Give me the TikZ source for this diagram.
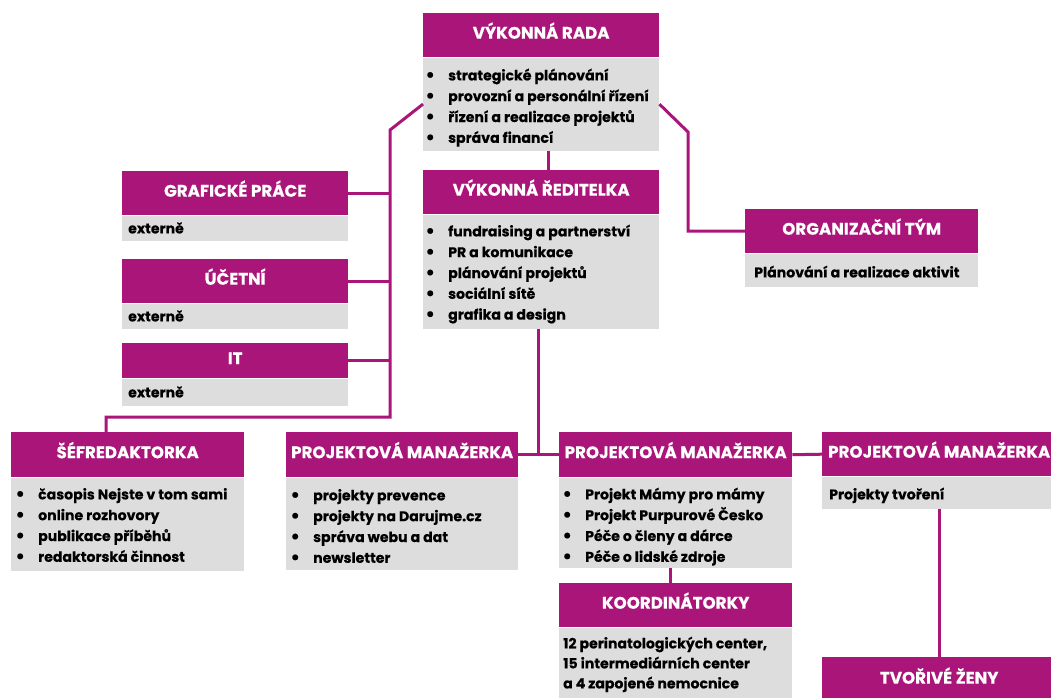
\documentclass[tikz,border=0pt]{standalone}
\usepackage{fontspec}
\setmainfont{Poppins}[BoldFeatures={FakeBold=0.35}]
\usetikzlibrary{calc}
\definecolor{mag}{RGB}{170,21,122}
\definecolor{boxgray}{RGB}{221,221,221}
\newcommand\bl{\makebox[0pt]{\raisebox{-0.9pt}{\fontsize{19}{19}\selectfont\textbullet}}\hspace{18pt}}
\tikzset{
  hdr/.style={anchor=north west, fill=mag, text=white, font=\fontsize{16.7}{19}\selectfont\bfseries, inner sep=0pt, text height=0.7em, text depth=0pt},
  bdy/.style={anchor=north west, fill=boxgray, inner sep=0pt},
  txt/.style={anchor=base west, inner sep=0pt, font=\fontsize{14.1}{20.8}\selectfont\bfseries, text=black},
  conn/.style={draw=mag, line width=3pt},
}
\begin{document}
\begin{tikzpicture}[x=1pt,y=-1pt]
\useasboundingbox (0,0) rectangle (1051,697);
\clip (0,0) rectangle (1051,697);
\fill[white] (0,0) rectangle (1051,697);

% VÝKONNÁ RADA
\node[hdr, minimum width=236pt, minimum height=44pt] (vrH) at (423,13) {VÝKONNÁ RADA};
\node[bdy, minimum width=236pt, minimum height=93pt] (vrB) at (vrH.south west) {};
\node[txt] (vrT) at ($(vrB.north west)+(7,23)$) {\begin{tabular}[t]{@{}l@{}}\bl strategické plánování\\\bl provozní a personální řízení\\\bl řízení a realizace projektů\\\bl správa financí\end{tabular}};

% VÝKONNÁ ŘEDITELKA
\node[hdr, minimum width=236pt, minimum height=44pt] (vdH) at (423,170) {VÝKONNÁ ŘEDITELKA};
\node[bdy, minimum width=236pt, minimum height=114pt] (vdB) at (vdH.south west) {};
\node[txt] (vdT) at ($(vdB.north west)+(7,22)$) {\begin{tabular}[t]{@{}l@{}}\bl fundraising a partnerství\\\bl PR a komunikace\\\bl plánování projektů\\\bl sociální sítě\\\bl grafika a design\end{tabular}};

% GRAFICKÉ PRÁCE
\node[hdr, minimum width=226pt, minimum height=44pt] (gpH) at (122,171) {GRAFICKÉ PRÁCE};
\node[bdy, minimum width=226pt, minimum height=25pt] (gpB) at (gpH.south west) {};
\node[txt] (gpT) at ($(gpB.north west)+(6,18)$) {externě};

% ÚČETNÍ
\node[hdr, minimum width=226pt, minimum height=44pt] (ucH) at (122,259) {ÚČETNÍ};
\node[bdy, minimum width=226pt, minimum height=25pt] (ucB) at (ucH.south west) {};
\node[txt] (ucT) at ($(ucB.north west)+(6,18)$) {externě};

% IT
\node[hdr, minimum width=226pt, minimum height=35pt] (itH) at (122,343) {IT};
\node[bdy, minimum width=226pt, minimum height=27pt] (itB) at (itH.south west) {};
\node[txt] (itT) at ($(itB.north west)+(6,19)$) {externě};

% ORGANIZAČNÍ TÝM
\node[hdr, minimum width=233pt, minimum height=44pt] (otH) at (745,209) {ORGANIZAČNÍ TÝM};
\node[bdy, minimum width=233pt, minimum height=33pt] (otB) at (otH.south west) {};
\node[txt] (otT) at ($(otB.north west)+(9,24)$) {Plánování a realizace aktivit};

% ŠÉFREDAKTORKA
\node[hdr, minimum width=233pt, minimum height=45pt] (sfH) at (11,432) {ŠÉFREDAKTORKA};
\node[bdy, minimum width=233pt, minimum height=93pt] (sfB) at (sfH.south west) {};
\node[txt] (sfT) at ($(sfB.north west)+(9,22)$) {\begin{tabular}[t]{@{}l@{}}\bl časopis Nejste v tom sami\\\bl online rozhovory\\\bl publikace příběhů\\\bl redaktorská činnost\end{tabular}};

% PROJEKTOVÁ MANAŽERKA 1
\node[hdr, minimum width=232pt, minimum height=45pt] (pm1H) at (286,432) {PROJEKTOVÁ MANAŽERKA};
\node[bdy, minimum width=232pt, minimum height=92pt] (pm1B) at (pm1H.south west) {};
\node[txt] (pm1T) at ($(pm1B.north west)+(9,23)$) {\begin{tabular}[t]{@{}l@{}}\bl projekty prevence\\\bl projekty na Darujme.cz\\\bl správa webu a dat\\\bl newsletter\end{tabular}};

% PROJEKTOVÁ MANAŽERKA 2
\node[hdr, minimum width=233pt, minimum height=45pt] (pm2H) at (559,432) {PROJEKTOVÁ MANAŽERKA};
\node[bdy, minimum width=233pt, minimum height=90pt] (pm2B) at (pm2H.south west) {};
\node[txt] (pm2T) at ($(pm2B.north west)+(8,22)$) {\begin{tabular}[t]{@{}l@{}}\bl Projekt Mámy pro mámy\\\bl Projekt Purpurové Česko\\\bl Péče o členy a dárce\\\bl Péče o lidské zdroje\end{tabular}};

% KOORDINÁTORKY
\node[hdr, minimum width=233pt, minimum height=44pt] (koH) at (559,583) {KOORDINÁTORKY};
\node[bdy, minimum width=233pt, minimum height=80pt] (koB) at (koH.south west) {};
\node[txt] (koT) at ($(koB.north west)+(4,21)$) {\begin{tabular}[t]{@{}l@{}}12 perinatologických center,\\[-0.8pt]15 intermediárních center\\[-0.8pt]a 4 zapojené nemocnice\end{tabular}};

% PROJEKTOVÁ MANAŽERKA 3
\node[hdr, minimum width=234pt, minimum height=44pt] (pm3H) at (822,432) {PROJEKTOVÁ MANAŽERKA};
\node[bdy, minimum width=234pt, minimum height=32pt] (pm3B) at (pm3H.south west) {};
\node[txt] (pm3T) at ($(pm3B.north west)+(7,23)$) {Projekty tvoření};

% TVOŘIVÉ ŽENY
\node[hdr, minimum width=234pt, minimum height=46pt] (tzH) at (822,657) {TVOŘIVÉ ŽENY};

% connectors
\coordinate (ltop) at (390,130);
\coordinate (lbot) at (390,417);
\coordinate (rtop) at (688,132);
\draw[conn] (vrB.west) -- (ltop) -- (lbot) -| ($(sfH.north west)+(95,0)$);
\draw[conn] (gpH.east) -- (gpH.east -| ltop);
\draw[conn] (ucH.east) -- (ucH.east -| ltop);
\draw[conn] (itH.east) -- (itH.east -| ltop);
\draw[conn] (vrB.east) -- (rtop) |- (otH.west);
\draw[conn] ($(vrB.south)+(7,0)$) -- ($(vdH.north)+(7,0)$);
\coordinate (hub) at ($(vdB.south)+(-3,0)$);
\draw[conn] (hub) -- (hub |- pm1H.east);
\draw[conn] (pm1H.east) -- (pm2H.west);
\draw[conn] (pm2H.east) -- (pm3H.west);
\draw[conn] ($(pm2B.south)+(-5,0)$) -- ($(koH.north)+(-5,0)$);
\draw[conn] (pm3B.south) -- (tzH.north);
\end{tikzpicture}
\end{document}
